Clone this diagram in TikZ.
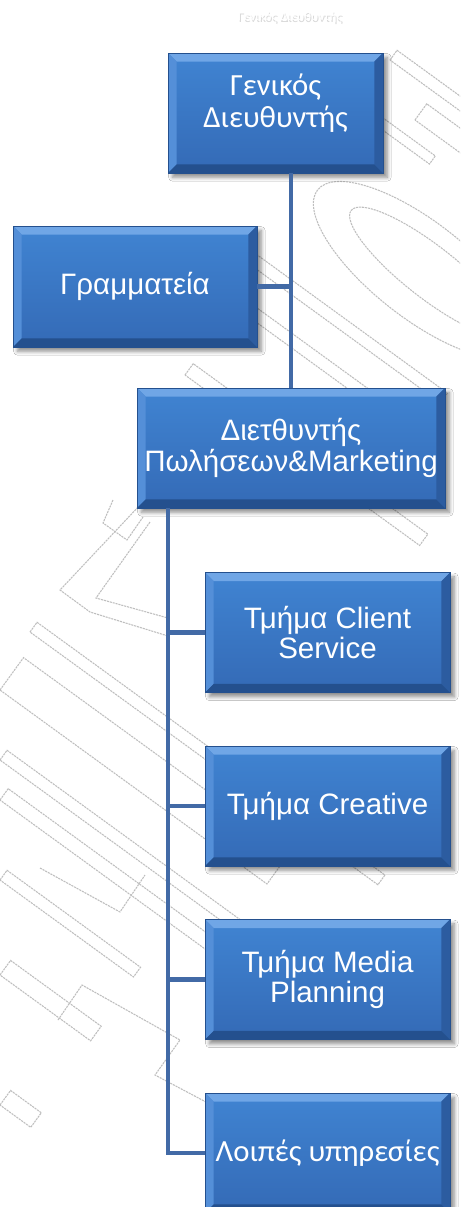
\documentclass[tikz,border=0pt]{standalone}
\usepackage{fontspec}
\setmainfont{Liberation Sans}
\newfontfamily\calfont{Carlito}
\usepackage{tikz}
\usetikzlibrary{positioning}
\usetikzlibrary{shadows.blur}

\definecolor{facetop}{RGB}{64,132,210}
\definecolor{facebot}{RGB}{52,106,182}
\definecolor{bevtop}{RGB}{112,166,230}
\definecolor{bevleft}{RGB}{84,143,216}
\definecolor{bevright}{RGB}{44,92,160}
\definecolor{bevbot}{RGB}{36,80,142}
\definecolor{linkblue}{RGB}{66,106,166}
\definecolor{wmgray}{RGB}{190,190,190}

% bevelled edges of a box
\newcommand{\bv}{0.17cm}
\newcommand{\bevelface}{%
  \path (path picture bounding box.north west) coordinate (bnw)
        (path picture bounding box.north east) coordinate (bne)
        (path picture bounding box.south west) coordinate (bsw)
        (path picture bounding box.south east) coordinate (bse);
  \fill[bevtop] (bnw) -- (bne) -- ([xshift=-\bv,yshift=-\bv]bne) -- ([xshift=\bv,yshift=-\bv]bnw) -- cycle;
  \fill[bevleft] (bnw) -- (bsw) -- ([xshift=\bv,yshift=\bv]bsw) -- ([xshift=\bv,yshift=-\bv]bnw) -- cycle;
  \fill[bevright] (bne) -- (bse) -- ([xshift=-\bv,yshift=\bv]bse) -- ([xshift=-\bv,yshift=-\bv]bne) -- cycle;
  \fill[bevbot] (bsw) -- (bse) -- ([xshift=-\bv,yshift=\bv]bse) -- ([xshift=\bv,yshift=\bv]bsw) -- cycle;
}

\begin{document}
\begin{tikzpicture}[
    x=0.02cm, y=-0.02cm,
    unit/.style={rectangle, draw=bevbot, line width=0.3pt,
      top color=facetop, bottom color=facebot,
      text=white, align=center, inner sep=2pt,
      font=\fontsize{16.8}{17.5}\selectfont,
      minimum width=4.9cm, minimum height=2.4cm,
      blur shadow={shadow xshift=2.5pt, shadow yshift=-2.5pt,
        shadow blur steps=8, shadow opacity=45},
      path picture={\bevelface}},
    calibri/.style={font=\calfont\fontsize{17.5}{18}\selectfont},
    link/.style={draw=linkblue, line width=2.5pt},
    wm/.style={draw=wmgray, line width=0.6pt, dash pattern=on 1.2pt off 0.5pt}
    ]

    \useasboundingbox[fill=white] (0,0) rectangle (460,1207);

    % watermark strokes in the background
    \begin{scope}
      \clip (0,0) rectangle (460,1207);
      \foreach \px/\py/\bl/\bw in {30/632/430/12, 0/690/330/40, 0/760/300/12,
          0/800/260/14, 0/880/165/12, 0/975/112/18, 0/1105/38/18,
          185/375/290/14, 230/250/260/12, 205/285/280/12,
          390/60/150/12, 415/120/100/20, 300/70/160/10}
        \draw[wm, shift={(\px,\py)}, rotate=-36] (0,0) rectangle (\bl,-\bw);
      \draw[wm] (140,505) -- (60,590) -- (90,612) -- (168,636);
      \draw[wm] (150,522) -- (96,598) -- (168,618);
      \draw[wm] (113,500) -- (103,523) -- (127,540) -- (143,517);
      \draw[wm] (40,868) -- (120,912) -- (145,875);
      \draw[wm] (58,1020) -- (82,985) -- (180,1040) -- (155,1075) -- (240,1120);
      \draw[wm, shift={(420,270)}, rotate=-38] (0,0) ellipse [x radius=130, y radius=48];
      \draw[wm, shift={(430,272)}, rotate=-38] (0,0) ellipse [x radius=100, y radius=26];
    \end{scope}

    % faint heading
    \node[font=\calfont\fontsize{7.5}{8}\selectfont, text=gray!30] (headshadow) at (291,19) {Γενικός Διευθυντής};
    \node[font=\calfont\fontsize{7.5}{8}\selectfont, text=white] (head) at (290,17) {Γενικός Διευθυντής};

    \node[unit, calibri, minimum width=4.3cm, text depth=0.5cm] (gd) at (275.5,113) {Γενικός\\Διευθυντής};
    \node[unit, minimum width=4.88cm, minimum height=2.42cm] (gr) at (135,286.5) {Γραμματεία};
    \node[unit, minimum width=6.16cm] (dp) at (291,448) {Διετθυντής\\Πωλήσεων\&Marketing};

    \node[unit] (cs) at (327.5,632.5) {Τμήμα Client\\Service};
    \node[unit, below=1.06cm of cs] (cr) {Τμήμα Creative};
    \node[unit, below=1.06cm of cr] (mp) {Τμήμα Media\\Planning};
    \node[unit, calibri, below=1.06cm of mp] (lp) {Λοιπές υπηρεσίες};

    \draw[link] (dp.north |- gd.south) -- (dp.north);
    \draw[link] (gr.east) -- (gr.east -| dp.north);

    \coordinate (trunk) at ([xshift=0.62cm]dp.south west);
    \draw[link] (trunk) |- (lp.west);
    \foreach \d in {cs,cr,mp}
      \draw[link] (trunk |- \d.west) -- (\d.west);

  \end{tikzpicture}
\end{document}
